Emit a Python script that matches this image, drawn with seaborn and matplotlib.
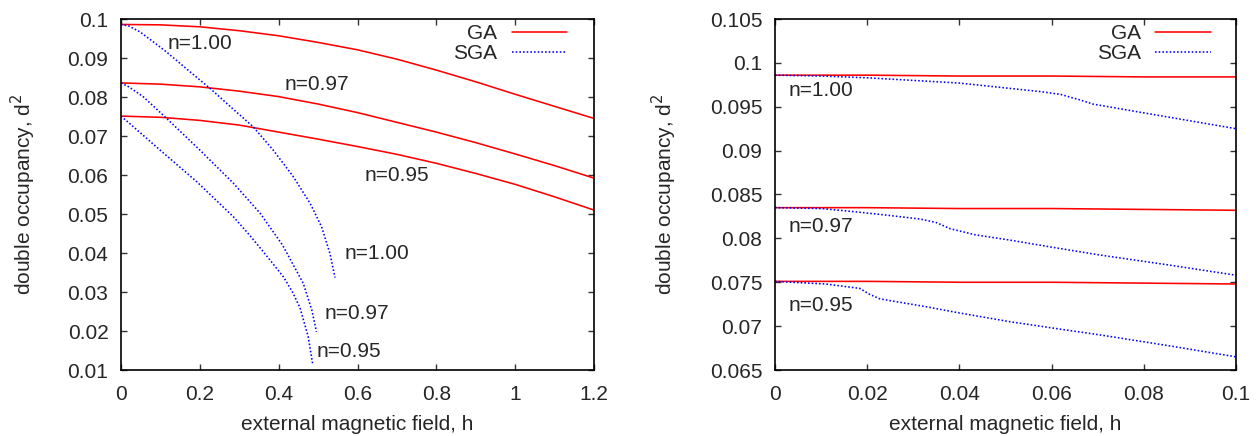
import numpy as np
import pandas as pd
import matplotlib
matplotlib.use("Agg")
import matplotlib.pyplot as plt
import seaborn as sns
from matplotlib.lines import Line2D

# ---------------- data ----------------
# Left panel: GA curves
ga_h_left = [0.0, 0.1, 0.2, 0.3, 0.4, 0.5, 0.6, 0.7, 0.8, 0.9, 1.0, 1.1, 1.2]
ga_n100_left = [0.0986, 0.0985, 0.0980, 0.0970, 0.0957, 0.0940, 0.0921, 0.0897, 0.0869, 0.0839, 0.0807, 0.0776, 0.0745]
ga_n097_left = [0.0836, 0.0833, 0.0826, 0.0815, 0.0801, 0.0782, 0.0760, 0.0735, 0.0710, 0.0683, 0.0654, 0.0624, 0.0592]
ga_n095_left = [0.0751, 0.0748, 0.0740, 0.0728, 0.0710, 0.0692, 0.0673, 0.0653, 0.0630, 0.0604, 0.0576, 0.0544, 0.0510]

# Left panel: SGA curves
sga_h_n100_left = [0.0, 0.02, 0.048, 0.08, 0.116, 0.17, 0.226, 0.28, 0.335, 0.386, 0.437, 0.48, 0.509, 0.53, 0.543]
sga_n100_left = [0.0986, 0.0982, 0.0967, 0.0943, 0.0915, 0.0869, 0.0822, 0.0773, 0.0724, 0.0664, 0.0596, 0.0527, 0.0467, 0.0399, 0.0337]
sga_h_n097_left = [0.0, 0.02, 0.056, 0.116, 0.2, 0.285, 0.353, 0.41, 0.4625, 0.484, 0.496]
sga_n097_left = [0.0836, 0.0826, 0.0801, 0.0745, 0.0664, 0.0579, 0.0502, 0.0420, 0.0322, 0.0254, 0.0198]
sga_h_n095_left = [0.0, 0.03, 0.099, 0.192, 0.285, 0.327, 0.37, 0.412, 0.435, 0.454, 0.475, 0.486]
sga_n095_left = [0.0751, 0.0725, 0.0664, 0.0583, 0.0493, 0.0445, 0.0392, 0.0339, 0.0300, 0.0260, 0.0185, 0.0117]

# Right panel: GA curves
ga_h_right = [0.0, 0.02, 0.04, 0.06, 0.08, 0.1]
ga_n100_right = [0.0986, 0.0986, 0.0985, 0.0985, 0.0984, 0.0984]
ga_n097_right = [0.0835, 0.0835, 0.0834, 0.0834, 0.0833, 0.0832]
ga_n095_right = [0.0751, 0.0751, 0.0750, 0.0750, 0.0749, 0.0748]

# Right panel: SGA curves
sga_h_n100_right = [0.0, 0.01, 0.02, 0.03, 0.04, 0.049, 0.058, 0.062, 0.066, 0.069, 0.08, 0.09, 0.1]
sga_n100_right = [0.0986, 0.0985, 0.0983, 0.0980, 0.0977, 0.0972, 0.0967, 0.0964, 0.0958, 0.0953, 0.0943, 0.0934, 0.0925]
sga_h_n097_right = [0.0, 0.01, 0.018, 0.025, 0.0315, 0.035, 0.038, 0.0435, 0.051, 0.06, 0.0705, 0.085, 0.1]
sga_n097_right = [0.0835, 0.0834, 0.0830, 0.0826, 0.0822, 0.0818, 0.0811, 0.0804, 0.0798, 0.0790, 0.0781, 0.0770, 0.0758]
sga_h_n095_right = [0.0, 0.011, 0.0184, 0.0206, 0.0228, 0.0329, 0.04, 0.051, 0.06, 0.0705, 0.085, 0.1]
sga_n095_right = [0.0751, 0.0748, 0.0743, 0.0736, 0.0731, 0.0722, 0.0715, 0.0705, 0.0698, 0.0690, 0.0678, 0.0665]

# Tick values
xticks_left = [0, 0.2, 0.4, 0.6, 0.8, 1.0, 1.2]
yticks_left = [0.01, 0.02, 0.03, 0.04, 0.05, 0.06, 0.07, 0.08, 0.09, 0.1]
xticks_right = [0, 0.02, 0.04, 0.06, 0.08, 0.1]
yticks_right = [0.065, 0.07, 0.075, 0.08, 0.085, 0.09, 0.095, 0.1, 0.105]

# Curve annotations (text, h, d^2)
labels_left = [("n=1.00", 0.117, 0.0938), ("n=0.97", 0.416, 0.0831), ("n=0.95", 0.619, 0.0600),
               ("n=1.00", 0.568, 0.0399), ("n=0.97", 0.517, 0.0245), ("n=0.95", 0.496, 0.0147)]
labels_right = [("n=1.00", 0.0029, 0.0969), ("n=0.97", 0.0029, 0.0814), ("n=0.95", 0.0029, 0.0723)]

# ---------------- styling ----------------
sns.set_style("ticks")
plt.rcParams['font.family'] = ['Liberation Sans', 'DejaVu Sans']
FS = 15
RED = "#ff0000"
BLUE = "#0000ff"
DOT = (0, (1.0, 1.3))

fig = plt.figure(figsize=(12.59, 4.36), dpi=100)
axL = fig.add_axes([121 / 1259, 66 / 436, 473 / 1259, 351 / 436])
axR = fig.add_axes([775 / 1259, 66 / 436, 461 / 1259, 351 / 436])


def draw(ax, x, y, color, ls, lw):
    df = pd.DataFrame({"h": x, "d2": y})
    sns.lineplot(data=df, x="h", y="d2", ax=ax, color=color, linestyle=ls,
                 linewidth=lw, sort=False, estimator=None)


for ys in (ga_n100_left, ga_n097_left, ga_n095_left):
    draw(axL, ga_h_left, ys, RED, "-", 1.15)
for hs, ys in ((sga_h_n100_left, sga_n100_left), (sga_h_n097_left, sga_n097_left),
               (sga_h_n095_left, sga_n095_left)):
    draw(axL, hs, ys, BLUE, DOT, 1.15)

for ys in (ga_n100_right, ga_n097_right, ga_n095_right):
    draw(axR, ga_h_right, ys, RED, "-", 1.15)
for hs, ys in ((sga_h_n100_right, sga_n100_right), (sga_h_n097_right, sga_n097_right),
               (sga_h_n095_right, sga_n095_right)):
    draw(axR, hs, ys, BLUE, DOT, 1.15)


def fmt(v):
    return "%g" % v


def style(ax, xt, yt, xlim, ylim, ylab_x, leg_x):
    ax.set_xlim(*xlim)
    ax.set_ylim(*ylim)
    ax.set_xticks(xt)
    ax.set_yticks(yt)
    ax.set_xticklabels([fmt(v) for v in xt], fontsize=FS)
    ax.set_yticklabels([fmt(v) for v in yt], fontsize=FS)
    ax.tick_params(direction="in", length=4.5, width=1.0, top=True, right=True,
                   color="#333333")
    ax.tick_params(axis="x", pad=11)
    ax.tick_params(axis="y", pad=9)
    for s in ax.spines.values():
        s.set_visible(True)
        s.set_linewidth(1.2)
        s.set_color("black")
    ax.set_xlabel("external magnetic field, h", fontsize=FS)
    ax.set_ylabel("double occupancy, d$^2$", fontsize=FS)
    ax.xaxis.label.set_va("baseline")
    ax.xaxis.set_label_coords(0.5, -0.171)
    ax.yaxis.set_label_coords(ylab_x, 0.5)
    handles = [Line2D([], [], color=RED, lw=1.15, ls="-"),
               Line2D([], [], color=BLUE, lw=1.15, ls=DOT)]
    ax.legend(handles, ["GA", "SGA"], loc="upper right", frameon=False,
              bbox_to_anchor=(leg_x, 1.009), borderaxespad=0.0,
              markerfirst=False, fontsize=FS, handlelength=2.65,
              handletextpad=0.7, labelspacing=0.06)


style(axL, xticks_left, yticks_left, (0, 1.2), (0.01, 0.1), -0.176, 0.960)
style(axR, xticks_right, yticks_right, (0, 0.1), (0.065, 0.105), -0.209, 0.963)

for t, x, y in labels_left:
    axL.text(x, y, t, fontsize=FS, ha="left", va="center")
for t, x, y in labels_right:
    axR.text(x, y, t, fontsize=FS, ha="left", va="center")

fig.savefig("out.png", dpi=100)
